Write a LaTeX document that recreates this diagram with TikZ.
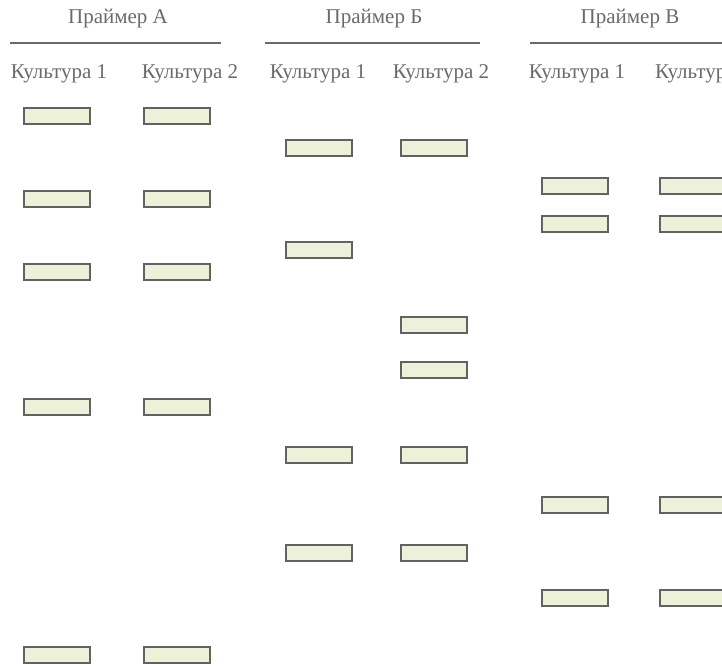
\documentclass[tikz,border=0pt]{standalone}
\usepackage{fontspec}
\setmainfont{Liberation Serif}
\definecolor{txt}{HTML}{6A6A6A}
\definecolor{bandfill}{HTML}{EEF1D9}
\definecolor{bandline}{HTML}{626262}
\tikzset{
  lbl/.style={text=txt, font=\fontsize{21}{24}\selectfont, inner sep=0pt},
  hdr/.style={draw=txt, line width=1.8pt},
  band/.style={draw=bandline, line width=2.2pt, fill=bandfill, minimum width=66pt, minimum height=16pt, inner sep=0pt}
}
\begin{document}
\begin{tikzpicture}[x=1pt,y=-1pt]
\useasboundingbox (0,0) rectangle (722,665);
\clip (0,0) rectangle (722,665);
% headers
\node[lbl] (pa) at (118,19) {Праймер А};
\node[lbl] (pb) at (374,19) {Праймер Б};
\node[lbl] (pc) at (630,19) {Праймер В};
\coordinate (pa1) at (10,43); \coordinate (pa2) at (221,43);
\coordinate (pb1) at (265,43); \coordinate (pb2) at (480,43);
\coordinate (pc1) at (530,43); \coordinate (pc2) at (730,43);
\draw[hdr] (pa1) -- (pa2);
\draw[hdr] (pb1) -- (pb2);
\draw[hdr] (pc1) -- (pc2);
% culture labels
\node[lbl] (ca1) at (59,74) {Культура 1};
\node[lbl] (ca2) at (190,74) {Культура 2};
\node[lbl] (cb1) at (318,74) {Культура 1};
\node[lbl] (cb2) at (441,74) {Культура 2};
\node[lbl] (cc1) at (577,74) {Культура 1};
\node[lbl,anchor=west] (cc2) at (655,74) {Культура 2};
% bands
\foreach \y [count=\i] in {116,199,272,407,655}{
  \node[band] (a1\i) at (57,\y) {};
  \node[band] (a2\i) at (177,\y) {};
}
\foreach \y [count=\i] in {148,250,455,553}{
  \node[band] (b1\i) at (319,\y) {};
}
\foreach \y [count=\i] in {148,325,370,455,553}{
  \node[band] (b2\i) at (434,\y) {};
}
\foreach \y [count=\i] in {186,224,505,598}{
  \node[band] (c1\i) at (575,\y) {};
  \node[band] (c2\i) at (693,\y) {};
}
\end{tikzpicture}
\end{document}
